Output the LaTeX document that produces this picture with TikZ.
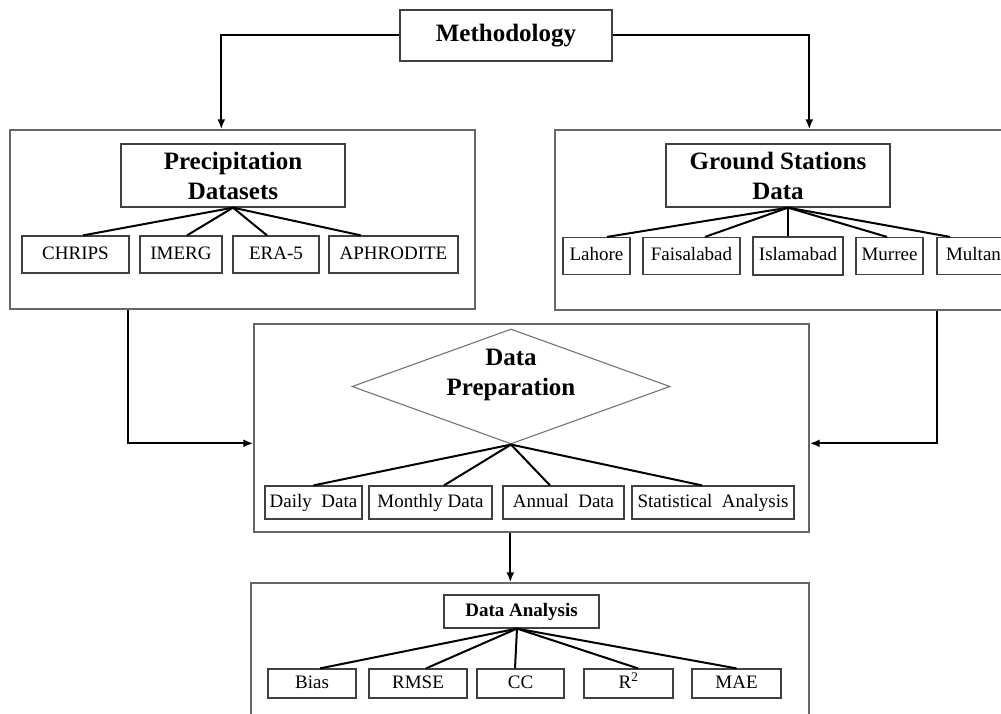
\documentclass[tikz,border=0pt]{standalone}
\usepackage{fontspec}
\setmainfont{Liberation Serif}
\usetikzlibrary{shapes.geometric,arrows.meta}
\begin{document}
\begin{tikzpicture}[x=1pt,y=-1pt,
 bigbox/.style={draw=black!60, line width=1.4pt, inner sep=0pt},
 titlebox/.style={draw=black!75, line width=1.3pt, fill=white, inner sep=0pt, align=center, font=\fontsize{25}{30}\selectfont\bfseries},
 subbox/.style={draw=black!75, line width=1.2pt, fill=white, inner sep=0pt, text height=13pt, text depth=4pt, font=\fontsize{19}{23}\selectfont},
 conn/.style={line width=2pt, black},
 arr/.style={conn, -{Latex[length=10pt,width=8pt]}},
]
\useasboundingbox (0,0) rectangle (1001,714);
\clip (0,0) rectangle (1001,714);

% ---------- big boxes ----------
\node[bigbox, minimum width=465pt, minimum height=179pt] (pbox) at (242.5,219.5) {};
\node[bigbox, minimum width=455pt, minimum height=180pt] (gbox) at (782.5,220) {};
\node[bigbox, minimum width=555pt, minimum height=208pt] (mid) at (531.5,428) {};
\node[bigbox, minimum width=558pt, minimum height=137pt] (bot) at (530,651.5) {};

% ---------- top ----------
\node[titlebox, minimum width=212pt, minimum height=51pt] (meth) at (506,35.5) {Methodology};

% ---------- precipitation ----------
\node[titlebox, minimum width=224pt, minimum height=63pt] (ptitle) at (233,175.5) {Precipitation\\Datasets};
\node[subbox, minimum width=107pt, minimum height=37pt] (chrips) at (75.5,254.5) {CHRIPS};
\node[subbox, minimum width=82pt, minimum height=37pt] (imerg) at (181,254.5) {IMERG};
\node[subbox, minimum width=86pt, minimum height=37pt] (era) at (276,254.5) {ERA-5};
\node[subbox, minimum width=129pt, minimum height=37pt] (aph) at (393.5,254.5) {APHRODITE};

% ---------- ground stations ----------
\node[titlebox, minimum width=224pt, minimum height=63pt] (gtitle) at (778,175.5) {Ground Stations\\Data};
\node[subbox, minimum width=67pt, minimum height=37pt] (lah) at (596.5,256) {Lahore};
\node[subbox, minimum width=97pt, minimum height=37pt] (fsd) at (691.5,256) {Faisalabad};
\node[subbox, minimum width=90pt, minimum height=38pt] (isb) at (798,256) {Islamabad};
\node[subbox, minimum width=67pt, minimum height=37pt] (mur) at (889.5,256) {Murree};
\node[subbox, minimum width=73pt, minimum height=37pt] (mul) at (973.5,256) {Multan};

% ---------- data preparation ----------
\node[diamond, draw=black!55, line width=1.1pt, inner sep=0pt, minimum width=318pt, minimum height=115pt] (prep) at (511,386.5) {};
\node[align=center, inner sep=0pt, font=\fontsize{25}{30}\selectfont\bfseries] (preptext) at (511,375) {Data\\Preparation};
\node[subbox, minimum width=97pt, minimum height=33pt] (daily) at (313.5,502.5) {Daily\ \ Data};
\node[subbox, minimum width=123pt, minimum height=33pt] (month) at (430.5,502.5) {Monthly Data};
\node[subbox, minimum width=121pt, minimum height=33pt] (annual) at (563.5,502.5) {Annual\ \ Data};
\node[subbox, minimum width=162pt, minimum height=33pt] (stat) at (713,502.5) {Statistical\ \ Analysis};

% ---------- data analysis ----------
\node[subbox, font=\fontsize{19}{23}\selectfont\bfseries, minimum width=155pt, minimum height=33pt] (ana) at (521.5,611.5) {Data Analysis};
\node[subbox, minimum width=88pt, minimum height=29pt] (bias) at (312,683.5) {Bias};
\node[subbox, minimum width=98pt, minimum height=29pt] (rmse) at (418,683.5) {RMSE};
\node[subbox, minimum width=87pt, minimum height=29pt] (cc) at (520.5,683.5) {CC};
\node[subbox, minimum width=89pt, minimum height=29pt] (r2) at (628.5,683.5) {R\textsuperscript{2}};
\node[subbox, minimum width=89pt, minimum height=29pt] (mae) at (736.5,683.5) {MAE};

% ---------- arrows ----------
\draw[arr] (meth.west) -| ([xshift=212pt]pbox.north west);
\draw[arr] (meth.east) -| ([xshift=255pt]gbox.north west);
\draw[arr] ([xshift=119pt]pbox.south west) |- ([yshift=-120pt]mid.north west);
\draw[arr] ([xshift=383pt]gbox.south west) |- ([yshift=-120pt]mid.north east);
\draw[arr] ([xshift=257pt]mid.south west) -- ([xshift=260pt]bot.north west);

% ---------- fans ----------
\draw[conn] (ptitle.south) -- ([xshift=7.5pt]chrips.north);
\draw[conn] (ptitle.south) -- ([xshift=6pt]imerg.north);
\draw[conn] (ptitle.south) -- ([xshift=-9pt]era.north);
\draw[conn] (ptitle.south) -- ([xshift=-32.5pt]aph.north);

\draw[conn] ([xshift=10pt]gtitle.south) -- ([xshift=10.5pt]lah.north);
\draw[conn] ([xshift=10pt]gtitle.south) -- ([xshift=13.5pt]fsd.north);
\draw[conn] ([xshift=10pt]gtitle.south) -- ([xshift=-10pt]isb.north);
\draw[conn] ([xshift=10pt]gtitle.south) -- ([xshift=-2.5pt]mur.north);
\draw[conn] ([xshift=10pt]gtitle.south) -- ([xshift=-23.5pt]mul.north);

\draw[conn] (prep.south) -- (daily.north);
\draw[conn] (prep.south) -- ([xshift=13.5pt]month.north);
\draw[conn] (prep.south) -- ([xshift=-13.5pt]annual.north);
\draw[conn] (prep.south) -- ([xshift=-11pt]stat.north);

\draw[conn] ([xshift=-4.5pt]ana.south) -- ([xshift=8pt]bias.north);
\draw[conn] ([xshift=-4.5pt]ana.south) -- ([xshift=8pt]rmse.north);
\draw[conn] ([xshift=-4.5pt]ana.south) -- ([xshift=-5.5pt]cc.north);
\draw[conn] ([xshift=-4.5pt]ana.south) -- ([xshift=9.5pt]r2.north);
\draw[conn] ([xshift=-4.5pt]ana.south) -- (mae.north);
\end{tikzpicture}
\end{document}
